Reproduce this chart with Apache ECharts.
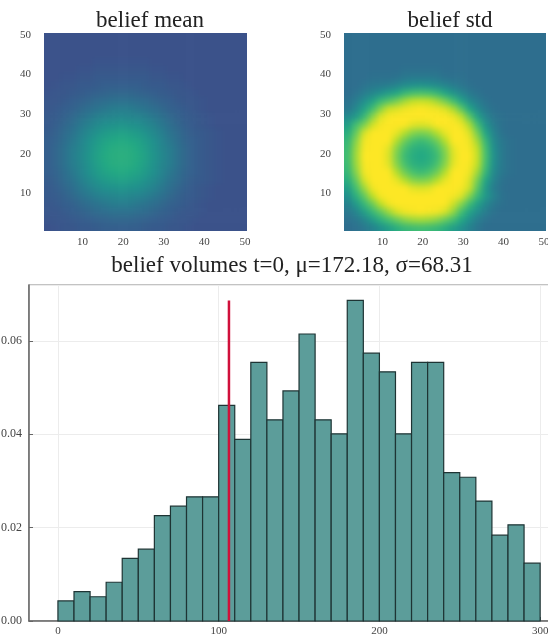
<!DOCTYPE html>
<html><head><meta charset="utf-8">
<script src="https://cdn.jsdelivr.net/npm/echarts@6/dist/echarts.min.js"></script>
<style>
html,body{margin:0;padding:0;background:#fff}
#wrap{position:relative;width:548px;height:638px;overflow:hidden}
.clip{position:absolute;overflow:hidden}
.blur{position:absolute;filter:blur(3px)}
#c{position:absolute;left:0;top:0;width:548px;height:638px}
</style>
</head><body>
<div id="wrap">
  <div class="clip" id="clip0"><div class="blur" id="heat0"></div></div>
  <div class="clip" id="clip1"><div class="blur" id="heat1"></div></div>
  <div id="c"></div>
</div>
<script>
// ---------- data ----------
const heatTitles = ['belief mean', 'belief std'];
const heatTicks = [10, 20, 30, 40, 50];
// 25x25 cells, 2 units each, covering 0.5..50.5; rows listed bottom (y≈1.5) to top (y≈49.5);
// each value = position on the viridis scale in %
const meanRows = [
"25 26 27 27 28 28 29 30 30 30 30 30 29 28 28 27 27 26 25 25 25 25 25 25 25",
"26 27 27 28 29 30 31 32 33 33 33 32 31 30 29 28 27 27 26 25 25 25 25 25 25",
"27 27 28 30 31 33 35 36 37 37 37 36 35 33 31 30 28 27 27 26 25 25 25 25 25",
"27 28 30 31 34 36 38 40 42 42 42 40 38 36 34 31 30 28 27 26 25 25 25 25 25",
"28 29 31 34 37 40 43 45 46 47 46 45 43 40 37 34 31 29 28 27 26 25 25 25 25",
"28 30 33 36 40 44 47 50 51 52 51 50 47 44 40 36 33 30 28 27 26 25 25 25 25",
"29 31 35 38 43 47 51 54 56 57 56 54 51 47 43 38 35 31 29 28 27 26 25 25 25",
"30 32 36 40 45 50 54 58 60 61 60 58 54 50 45 40 36 32 30 28 27 26 25 25 25",
"30 33 37 42 46 51 56 60 62 62 62 60 56 51 46 42 37 33 30 28 27 26 25 25 25",
"30 33 37 42 47 52 57 61 62 63 62 61 57 52 47 42 37 33 30 28 27 26 25 25 25",
"30 33 37 42 46 51 56 60 62 62 62 60 56 51 46 42 37 33 30 28 27 26 25 25 25",
"30 32 36 40 45 50 54 58 60 61 60 58 54 50 45 40 36 32 30 28 27 26 25 25 25",
"29 31 35 38 43 47 51 54 56 57 56 54 51 47 43 38 35 31 29 28 27 26 25 25 25",
"28 30 33 36 40 44 47 50 51 52 51 50 47 44 40 36 33 30 28 27 26 25 25 25 25",
"28 29 31 34 37 40 43 45 46 47 46 45 43 40 37 34 31 29 28 27 26 25 25 25 25",
"27 28 30 31 34 36 38 40 42 42 42 40 38 36 34 31 30 28 27 26 25 25 25 25 25",
"27 27 28 30 31 33 35 36 37 37 37 36 35 33 31 30 28 27 27 26 25 25 25 25 25",
"26 27 27 28 29 30 31 32 33 33 33 32 31 30 29 28 27 27 26 25 25 25 25 25 25",
"25 26 27 27 28 28 29 30 30 30 30 30 29 28 28 27 27 26 25 25 25 25 25 25 25",
"25 25 26 26 27 27 28 28 28 28 28 28 28 27 27 26 26 25 25 25 25 25 25 25 25",
"25 25 25 25 26 26 27 27 27 27 27 27 27 26 26 25 25 25 25 25 25 25 25 25 25",
"25 25 25 25 25 25 26 26 26 26 26 26 26 25 25 25 25 25 25 25 25 25 25 25 25",
"25 25 25 25 25 25 25 25 25 25 25 25 25 25 25 25 25 25 25 25 25 25 25 25 25",
"25 25 25 25 25 25 25 25 25 25 25 25 25 25 25 25 25 25 25 25 25 25 25 25 25",
"25 25 25 25 25 25 25 25 25 25 25 25 25 25 25 25 25 25 25 25 25 25 25 25 25"
];
const stdRows = [
"36 37 40 44 50 56 62 66 68 69 68 66 62 56 50 44 39 36 36 36 36 36 36 36 36",
"37 40 46 54 63 70 76 82 85 86 85 82 76 70 60 50 42 38 36 36 36 36 36 36 36",
"40 46 56 66 75 85 94 98 99 100 99 98 94 84 70 58 49 42 38 36 36 36 36 36 36",
"44 54 66 77 90 98 100 100 100 100 100 100 100 93 82 69 57 47 40 37 36 36 36 36 36",
"50 63 75 90 99 100 100 100 100 100 100 100 100 99 95 82 67 54 45 38 36 36 36 36 36",
"56 70 85 98 100 100 100 100 96 95 96 100 100 100 99 93 74 54 42 37 36 36 36 36 36",
"62 76 94 100 100 100 97 89 82 80 82 89 97 100 100 95 79 59 45 38 36 36 36 36 36",
"66 82 98 100 100 100 89 78 71 68 71 78 89 100 100 98 86 66 48 40 37 36 36 36 36",
"68 85 99 100 100 96 82 71 64 62 64 71 82 96 100 99 91 70 50 41 37 36 36 36 36",
"69 86 100 100 100 95 80 68 62 60 62 68 80 95 100 100 92 71 51 41 37 36 36 36 36",
"68 85 99 100 100 96 82 71 64 62 64 71 82 96 100 99 91 70 50 41 37 36 36 36 36",
"66 82 98 100 100 100 89 78 71 68 71 78 89 100 100 98 86 66 48 40 37 36 36 36 36",
"62 76 94 100 100 100 97 89 82 80 82 89 97 100 100 95 79 59 45 38 36 36 36 36 36",
"56 70 80 93 99 100 100 100 96 95 96 100 100 100 98 88 70 52 42 37 36 36 36 36 36",
"48 54 67 82 95 99 100 100 100 100 100 100 100 98 91 75 58 46 39 37 36 36 36 36 36",
"40 47 57 69 82 93 95 98 99 100 99 98 95 88 75 60 48 41 37 36 36 36 36 36 36",
"38 42 49 57 67 73 79 86 91 92 91 86 79 70 58 48 42 38 36 36 36 36 36 36 36",
"36 38 42 46 50 55 59 66 70 71 70 66 59 52 46 41 38 36 36 36 36 36 36 36 36",
"36 36 38 40 41 42 45 48 50 51 50 48 45 42 39 37 36 36 36 36 36 36 36 36 36",
"36 36 36 37 37 37 38 40 41 41 41 40 38 37 37 36 36 36 36 36 36 36 36 36 36",
"36 36 36 36 36 36 36 37 37 37 37 37 36 36 36 36 36 36 36 36 36 36 36 36 36",
"36 36 36 36 36 36 36 36 36 36 36 36 36 36 36 36 36 36 36 36 36 36 36 36 36",
"36 36 36 36 36 36 36 36 36 36 36 36 36 36 36 36 36 36 36 36 36 36 36 36 36",
"36 36 36 36 36 36 36 36 36 36 36 36 36 36 36 36 36 36 36 36 36 36 36 36 36",
"36 36 36 36 36 36 36 36 36 36 36 36 36 36 36 36 36 36 36 36 36 36 36 36 36"
];
const cellSize = 2;
const heatMin = 0.5, heatMax = 50.5;
const histTitle = 'belief volumes t=0, \u03bc=172.18, \u03c3=68.31';
const binStarts = [0,10,20,30,40,50,60,70,80,90,100,110,120,130,140,150,160,170,180,190,200,210,220,230,240,250,260,270,280,290];
const binWidth = 10;
const densities = [0.0043,0.0063,0.0052,0.0083,0.0134,0.0154,0.0226,0.0246,0.0266,0.0266,
                   0.0462,0.0389,0.0554,0.0431,0.0493,0.0615,0.0431,0.0401,0.0687,0.0574,
                   0.0534,0.0401,0.0554,0.0554,0.0318,0.0308,0.0257,0.0184,0.0206,0.0124];
const markerX = 106.4;
const markerTop = 0.0687;

// ---------- build ----------
const viridis = ['#440154','#482475','#414487','#355f8d','#2a788e','#21908d','#22a884','#43bf71','#7ad151','#bbdf27','#fde725'];
function toCells(rows){
  const out = [];
  rows.forEach((r, j) => r.trim().split(/\s+/).forEach((v, i) =>
    out.push([heatMin + i * cellSize, heatMin + j * cellSize, +v])));
  return out;
}
const serif = 'Liberation Serif';
const heatRects = [{left: 44, top: 33, width: 203, height: 198}, {left: 344, top: 33, width: 202, height: 198}];
const pad = 16;

// heatmap layers (each its own ECharts instance, softened like the raster original)
heatRects.forEach((r, k) => {
  const clip = document.getElementById('clip' + k);
  Object.assign(clip.style, {left: r.left + 'px', top: r.top + 'px', width: r.width + 'px', height: r.height + 'px'});
  const el = document.getElementById('heat' + k);
  Object.assign(el.style, {left: -pad + 'px', top: -pad + 'px', width: (r.width + 2 * pad) + 'px', height: (r.height + 2 * pad) + 'px'});
  const hc = echarts.init(el, null, {renderer: 'canvas'});
  hc.setOption({
    animation: false,
    grid: {left: pad, top: pad, width: r.width, height: r.height, outerBoundsMode: 'none'},
    xAxis: {type: 'value', min: heatMin, max: heatMax, show: false},
    yAxis: {type: 'value', min: heatMin, max: heatMax, show: false},
    visualMap: {show: false, min: 0, max: 100, dimension: 2, inRange: {color: viridis}},
    series: [{type: 'custom', data: toCells(k === 0 ? meanRows : stdRows), encode: {x: 0, y: 1}, silent: true, clip: false,
      renderItem: (params, api) => {
        const x0 = api.value(0), y0 = api.value(1);
        const a = api.coord([x0, y0 + cellSize]);
        const b = api.coord([x0 + cellSize, y0]);
        let x = a[0], y = a[1], w = b[0] - a[0] + 0.7, h = b[1] - a[1] + 0.7;
        if (x0 <= heatMin) { x -= pad; w += pad; }
        if (x0 + cellSize >= heatMax) { w += pad; }
        if (y0 <= heatMin) { h += pad; }
        if (y0 + cellSize >= heatMax) { y -= pad; h += pad; }
        return {type: 'rect', shape: {x, y, width: w, height: h}, style: {fill: api.visual('color')}};
      }}]
  });
});

// main chart: titles, axes, histogram
const grids = [], xAxes = [], yAxes = [], series = [];
heatRects.forEach((r, k) => {
  grids.push(Object.assign({outerBoundsMode: 'none'}, r));
  const lab = {customValues: heatTicks, fontFamily: serif, fontSize: 11, color: '#444'};
  xAxes.push({gridIndex: k, type: 'value', min: heatMin, max: heatMax, axisLine: {show: false}, axisTick: {show: false},
    splitLine: {show: false}, axisLabel: Object.assign({margin: 6}, lab)});
  yAxes.push({gridIndex: k, type: 'value', min: heatMin, max: heatMax, axisLine: {show: false}, axisTick: {show: false},
    splitLine: {show: false}, axisLabel: Object.assign({margin: 13}, lab)});
});
grids.push({left: 29, top: 285, width: 524, bottom: 17, show: true, borderColor: '#888', borderWidth: 1.2, outerBoundsMode: 'none'});
xAxes.push({gridIndex: 2, type: 'value', min: -18, max: 308, splitNumber: 3,
  axisLine: {show: true, onZero: false, lineStyle: {color: '#666', width: 1.5}},
  axisTick: {show: true, inside: true, length: 4, lineStyle: {color: '#666'}},
  axisLabel: {showMinLabel: false, showMaxLabel: false, fontFamily: serif, fontSize: 11, color: '#444', margin: 5},
  splitLine: {show: true, lineStyle: {color: '#ececec', width: 1}}});
yAxes.push({gridIndex: 2, type: 'value', min: 0, max: 0.072, interval: 0.02,
  axisLine: {show: true, onZero: false, lineStyle: {color: '#666', width: 1.5}},
  axisTick: {show: true, inside: true, length: 4, lineStyle: {color: '#666'}},
  axisLabel: {showMaxLabel: false, formatter: v => v.toFixed(2), fontFamily: serif, fontSize: 12, color: '#444', margin: 7},
  splitLine: {show: true, lineStyle: {color: '#ececec', width: 1}}});
series.push({type: 'custom', xAxisIndex: 2, yAxisIndex: 2,
  data: binStarts.map((s, i) => [s, s + binWidth, densities[i]]),
  encode: {x: [0, 1], y: 2},
  renderItem: (params, api) => {
    const p0 = api.coord([api.value(0), api.value(2)]);
    const p1 = api.coord([api.value(1), 0]);
    return {type: 'rect', shape: {x: p0[0], y: p0[1], width: p1[0] - p0[0], height: p1[1] - p0[1]},
      style: {fill: '#5c9d9a', stroke: '#1e3434', lineWidth: 1.2}};
  }});
series.push({type: 'line', xAxisIndex: 2, yAxisIndex: 2, data: [[markerX, 0], [markerX, markerTop]],
  showSymbol: false, lineStyle: {color: '#d0103a', width: 2.5}, z: 5, silent: true});

const titleStyle = {fontFamily: serif, fontWeight: 'normal', fontSize: 23, color: '#222'};
const chart = echarts.init(document.getElementById('c'), null, {renderer: 'canvas'});
chart.setOption({
  animation: false,
  backgroundColor: 'transparent',
  title: [
    {text: heatTitles[0], left: 145, top: 4, textAlign: 'center', textStyle: titleStyle},
    {text: heatTitles[1], left: 445, top: 4, textAlign: 'center', textStyle: titleStyle},
    {text: histTitle, left: 287, top: 249, textAlign: 'center', textStyle: titleStyle}
  ],
  grid: grids, xAxis: xAxes, yAxis: yAxes, series: series
});
</script></body></html>
